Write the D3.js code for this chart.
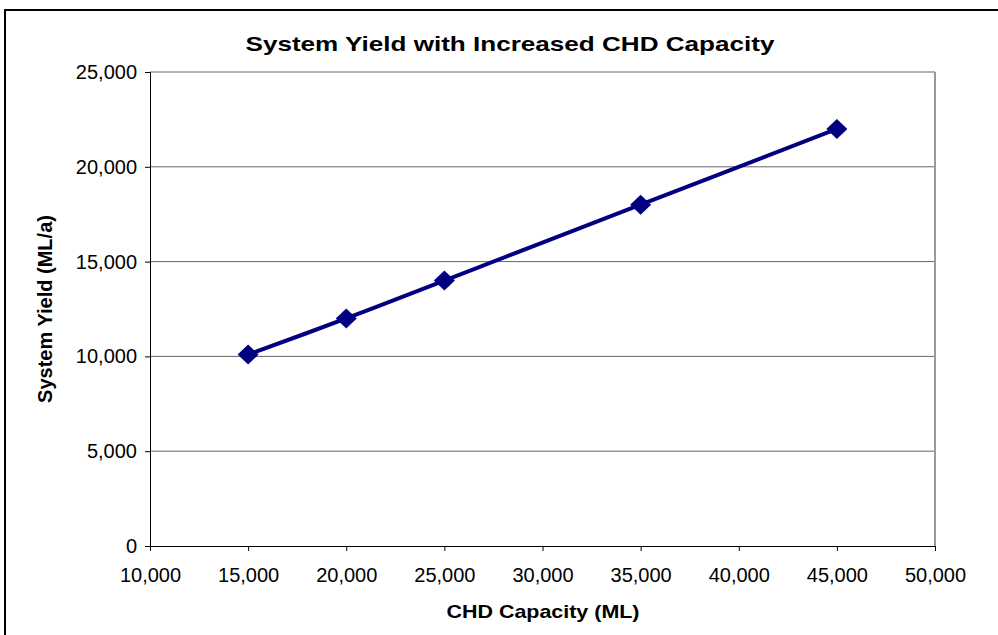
<!DOCTYPE html>
<html>
<head>
<meta charset="utf-8">
<script src="https://cdn.jsdelivr.net/npm/d3@7"></script>
<style>
  html, body { margin: 0; padding: 0; background: #fff; }
  svg { display: block; }
  text { font-family: Arial, "Liberation Sans", sans-serif; fill: #000; }
</style>
</head>
<body>
<svg id="chart" width="998" height="635"></svg>
<script>
// CHD capacity (ML) against resulting system yield (ML/a)
const capacity = [15000, 20000, 25000, 35000, 45000];
const yieldValues = [10100, 12000, 14000, 18000, 22000];
const xTicks = [10000, 15000, 20000, 25000, 30000, 35000, 40000, 45000, 50000];
const yTicks = [0, 5000, 10000, 15000, 20000, 25000];

const svg = d3.select("#chart");
const plot = { left: 150, right: 935, top: 72, bottom: 546 };
const font = "Arial, 'Liberation Sans', sans-serif";

const x = d3.scaleLinear().domain([10000, 50000]).range([plot.left, plot.right]);
const y = d3.scaleLinear().domain([0, 25000]).range([plot.bottom, plot.top]);
const fmt = d3.format(",");

// outer chart frame
svg.append("rect")
  .attr("x", 5).attr("y", 10).attr("width", 1010).attr("height", 640)
  .attr("fill", "none").attr("stroke", "#000").attr("stroke-width", 2);

// horizontal gridlines
svg.append("g").selectAll("line").data(yTicks.filter(d => d > 0)).join("line")
  .attr("x1", plot.left).attr("x2", plot.right)
  .attr("y1", d => y(d)).attr("y2", d => y(d))
  .attr("stroke", "#666").attr("stroke-width", 1);

// plot area right edge
svg.append("line")
  .attr("x1", plot.right).attr("x2", plot.right)
  .attr("y1", plot.top).attr("y2", plot.bottom)
  .attr("stroke", "#999").attr("stroke-width", 2);

// y axis
const yAxis = svg.append("g")
  .attr("transform", `translate(${plot.left},0)`)
  .call(d3.axisLeft(y).tickValues(yTicks).tickFormat(fmt).tickSize(5).tickPadding(8));
yAxis.select(".domain").attr("stroke", "#000");
yAxis.selectAll(".tick line").attr("stroke", "#000");
yAxis.selectAll("text").attr("font-size", 20).attr("font-family", font);

// x axis
const xAxis = svg.append("g")
  .attr("transform", `translate(0,${plot.bottom})`)
  .call(d3.axisBottom(x).tickValues(xTicks).tickFormat(fmt).tickSize(5).tickPadding(17));
xAxis.select(".domain").attr("stroke", "#000");
xAxis.selectAll(".tick line").attr("stroke", "#000");
xAxis.selectAll("text").attr("font-size", 20).attr("font-family", font);

// series line (smoothed)
const pts = capacity.map((c, i) => [c, yieldValues[i]]);
svg.append("path")
  .datum(pts)
  .attr("fill", "none")
  .attr("stroke", "#000080")
  .attr("stroke-width", 4)
  .attr("d", d3.line().x(d => x(d[0])).y(d => y(d[1])).curve(d3.curveCatmullRom.alpha(0)));

// diamond markers
svg.append("g").selectAll("path").data(pts).join("path")
  .attr("transform", d => `translate(${x(d[0])},${y(d[1])})`)
  .attr("d", "M0,-10L10.5,0L0,10L-10.5,0Z")
  .attr("fill", "#000080");

// title
svg.append("text")
  .attr("x", 510).attr("y", 51)
  .attr("text-anchor", "middle")
  .attr("font-size", 21).attr("font-weight", "bold")
  .attr("textLength", 529).attr("lengthAdjust", "spacingAndGlyphs")
  .text("System Yield with Increased CHD Capacity");

// axis titles
svg.append("text")
  .attr("x", 543).attr("y", 618)
  .attr("text-anchor", "middle")
  .attr("font-size", 19).attr("font-weight", "bold")
  .attr("textLength", 193).attr("lengthAdjust", "spacingAndGlyphs")
  .text("CHD Capacity (ML)");

svg.append("text")
  .attr("transform", `translate(52,${(plot.top + plot.bottom) / 2}) rotate(-90)`)
  .attr("text-anchor", "middle")
  .attr("font-size", 20).attr("font-weight", "bold")
  .text("System Yield (ML/a)");
</script>
</body>
</html>
